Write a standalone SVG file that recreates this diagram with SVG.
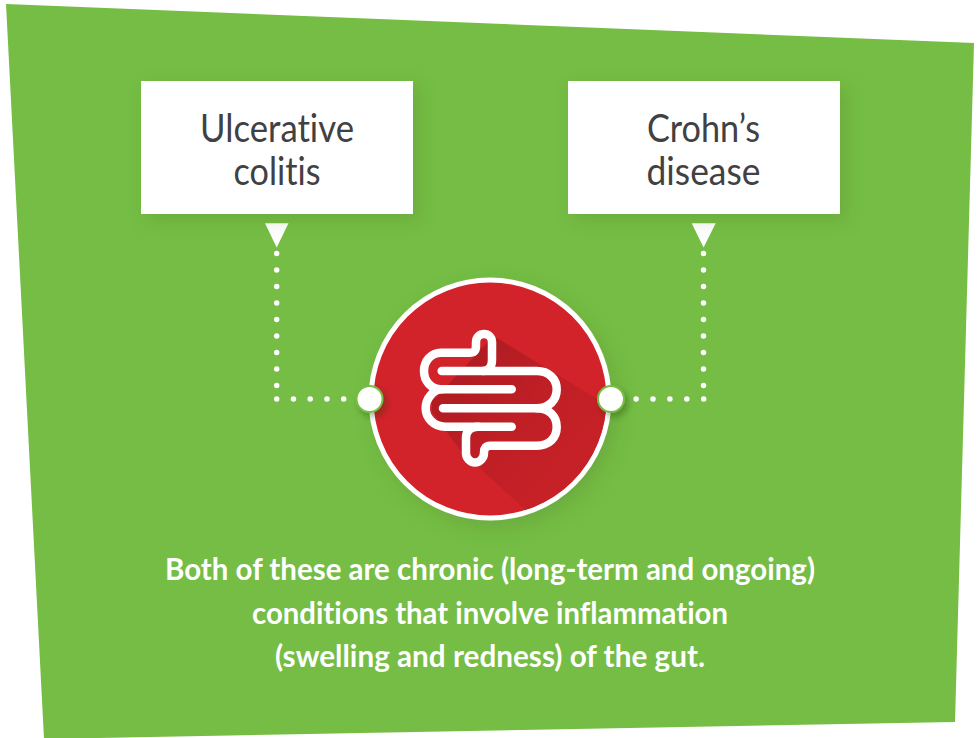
<svg xmlns="http://www.w3.org/2000/svg" width="978" height="738" viewBox="0 0 978 738">
<style>
.box{fill:#fff;filter:url(#soft)}
.lbl{font-family:"Lato","Noto Sans",sans-serif;font-size:38px;fill:#414042;text-anchor:middle;font-variant-ligatures:none}
.body{font-family:"Lato","Noto Sans",sans-serif;font-weight:700;font-size:30px;fill:#fff;text-anchor:middle;font-variant-ligatures:none}
.dots{fill:none;stroke:#fff;stroke-width:5.5;stroke-linecap:round}
.tri{fill:#fff}
.pin{fill:#fff;stroke:#75bd45;stroke-width:2;filter:url(#pinshadow)}
.gut{fill:none;stroke:#fff;stroke-width:8.5;stroke-linecap:round;stroke-linejoin:round}
</style>
<defs>
<filter id="soft" x="-20%" y="-20%" width="140%" height="150%"><feDropShadow dx="6" dy="6" stdDeviation="9" flood-color="#3c6b20" flood-opacity="0.22"/></filter>
<filter id="ringshadow" x="-20%" y="-20%" width="140%" height="140%"><feDropShadow dx="6" dy="7" stdDeviation="10" flood-color="#3c6b20" flood-opacity="0.22"/></filter>
<filter id="pinshadow" x="-50%" y="-50%" width="200%" height="200%"><feDropShadow dx="3" dy="4" stdDeviation="3" flood-color="#1e3a10" flood-opacity="0.35"/></filter>
<clipPath id="disc"><circle cx="490" cy="399" r="116.5"/></clipPath>
<linearGradient id="longshadow" gradientUnits="userSpaceOnUse" x1="440" y1="370" x2="570" y2="480">
<stop offset="0" stop-color="#ab1c21"/><stop offset="0.55" stop-color="#c01f26"/><stop offset="1" stop-color="#c62127"/>
</linearGradient>
</defs>
<polygon points="6,4 974,43 955,722 44,739" fill="#75bd45"/>
<g id="connectors">
<path class="dots" stroke-dasharray="0 16.5" d="M276.7,253.5V386"/>
<path class="dots" stroke-dasharray="0 16.75" d="M276.7,399H345"/>
<path class="dots" stroke-dasharray="0 16.5" d="M703.5,253.5V386"/>
<path class="dots" stroke-dasharray="0 16.9" d="M703.7,399H635"/>
<polygon class="tri" points="265,223.3 288.5,223.3 276.7,247.5"/>
<polygon class="tri" points="691.7,223.3 715.7,223.3 703.6,247.5"/>
</g>
<g id="node-ulcerative-colitis">
<rect class="box" x="141" y="81" width="272" height="133"/>
<text class="lbl" x="277" y="142" textLength="154" lengthAdjust="spacingAndGlyphs">Ulcerative</text>
<text class="lbl" x="277" y="184.5" textLength="87" lengthAdjust="spacingAndGlyphs">colitis</text>
</g>
<g id="node-crohns-disease">
<rect class="box" x="568" y="81" width="272" height="133"/>
<text class="lbl" x="703.5" y="142" textLength="113" lengthAdjust="spacingAndGlyphs">Crohn’s</text>
<text class="lbl" x="703.5" y="184.5" textLength="114" lengthAdjust="spacingAndGlyphs">disease</text>
</g>
<g id="node-gut">
<circle cx="490" cy="399" r="119" fill="#d2232a" stroke="#fff" stroke-width="5" filter="url(#ringshadow)"/>
<polygon clip-path="url(#disc)" fill="url(#longshadow)" points="488,342 432,402 432,412 460,450 545,528 640,528 640,425 497,338"/>
<path class="gut" d="M441.7,371H536.7C549,371 556.7,379 556.7,389.5C556.7,400 549,408.3 536.7,408.3H443"/>
<path class="gut" d="M536.7,408.3C549,408.3 556.7,416 556.7,427C556.7,438 549,445.7 536.7,445.7H490C486,445.7 484,448 484,452V453C484,458 480,462.5 475,462.5C470,462.5 466,458 466,453V438C466,431 471,426.7 478,426.7H511.7"/>
<path class="gut" d="M478,426.7H445C434,426.7 425.7,418 425.7,408.3C425.7,398 434,389.3 442,389.3H511.7"/>
<path class="gut" d="M442,389.3H441C431,389.3 424,381 424,371C424,361 431,352.7 441,352.7H470C476,352.7 476,349 476,344V342C476,337 480,334 484,334C488,334 492,337 492,342V360C492,366 489,371 483,371"/>
</g>
<g id="node-pin-left"><circle class="pin" cx="369.5" cy="399" r="13"/></g>
<g id="node-pin-right"><circle class="pin" cx="611" cy="399" r="13"/></g>
<g id="caption">
<text class="body" x="490" y="580" textLength="650" lengthAdjust="spacingAndGlyphs">Both of these are chronic (long-term and ongoing)</text>
<text class="body" x="490" y="624" textLength="476" lengthAdjust="spacingAndGlyphs">conditions that involve inflammation</text>
<text class="body" x="490" y="667" textLength="430" lengthAdjust="spacingAndGlyphs">(swelling and redness) of the gut.</text>
</g>
</svg>
